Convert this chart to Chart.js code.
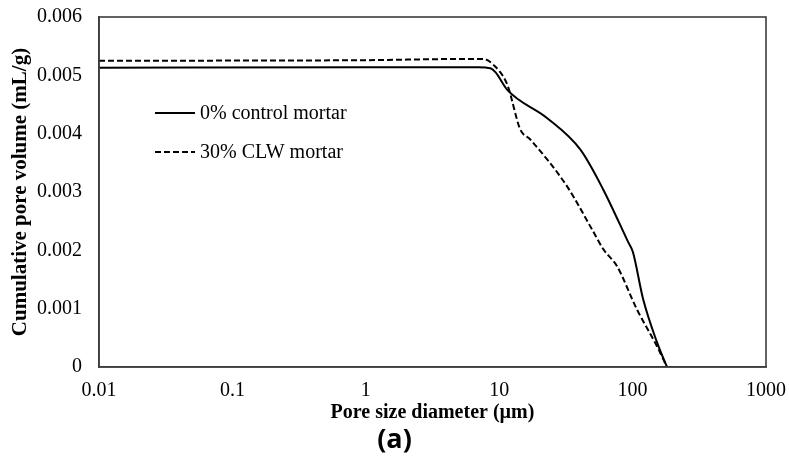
<!DOCTYPE html>
<html>
<head>
<meta charset="utf-8">
<script src="https://cdn.jsdelivr.net/npm/chart.js@4/dist/chart.umd.min.js"></script>
<style>
  html, body { margin: 0; padding: 0; background: #ffffff; }
  canvas { display: block; }
</style>
</head>
<body>
<canvas id="c" width="789" height="461"></canvas>
<script>
// ---- Data ----
const seriesNames = ['0% control mortar', '30% CLW mortar'];

const controlX = [0.01, 1, 7, 8.6, 9.4, 11.5, 22.8, 40.5, 60.3, 92.7, 100.5, 120, 152, 181];
const controlY = [0.00513, 0.00514, 0.00514, 0.00512, 0.00505, 0.00475, 0.00427, 0.00373, 0.00304, 0.00214, 0.00197, 0.00116, 0.00043, 0];

const clwX = [0.01, 1, 5, 7.6, 9.05, 11.5, 14.4, 17.1, 32.2, 49.6, 60.3, 76.3, 107.6, 152, 181];
const clwY = [0.00525, 0.00526, 0.00528, 0.00528, 0.00518, 0.00484, 0.00407, 0.0039, 0.0031, 0.00236, 0.00202, 0.00173, 0.00099, 0.00036, 0];

const xTickValues = [0.01, 0.1, 1, 10, 100, 1000];
const xTickLabels = ['0.01', '0.1', '1', '10', '100', '1000'];
const yTickValues = [0, 0.001, 0.002, 0.003, 0.004, 0.005, 0.006];
const yTickLabels = ['0', '0.001', '0.002', '0.003', '0.004', '0.005', '0.006'];

const xTitle = 'Pore size diameter (µm)';
const yTitle = 'Cumulative pore volume (mL/g)';
const panelLabel = '(a)';

// ---- Build chart ----
const toPoints = (xs, ys) => xs.map((x, i) => ({ x: x, y: ys[i] }));

const SERIF = "'Liberation Serif', 'Times New Roman', serif";

const framePlugin = {
  id: 'frame',
  afterDatasetsDraw(chart) {
    const { ctx, chartArea: a } = chart;
    ctx.save();
    ctx.strokeStyle = '#3c3c3c';
    ctx.lineWidth = 1.6;
    ctx.strokeRect(a.left, a.top, a.right - a.left, a.bottom - a.top);
    ctx.restore();
  }
};

const insideLegend = {
  id: 'insideLegend',
  afterDatasetsDraw(chart) {
    const { ctx, scales } = chart;
    const x0 = scales.x.left + 56;
    const rows = [113, 152];
    ctx.save();
    chart.data.datasets.forEach((ds, i) => {
      const y = rows[i];
      ctx.beginPath();
      ctx.setLineDash(ds.borderDash || []);
      ctx.strokeStyle = ds.borderColor;
      ctx.lineWidth = ds.borderWidth;
      ctx.moveTo(x0, y);
      ctx.lineTo(x0 + 40, y);
      ctx.stroke();
      ctx.setLineDash([]);
      ctx.fillStyle = '#000';
      ctx.font = '20px ' + SERIF;
      ctx.textBaseline = 'middle';
      ctx.textAlign = 'left';
      ctx.fillText(ds.label, x0 + 45, y + 1);
    });
    ctx.restore();
  }
};

new Chart(document.getElementById('c'), {
  type: 'line',
  data: {
    datasets: [
      {
        label: seriesNames[0],
        data: toPoints(controlX, controlY),
        borderColor: '#000000',
        borderWidth: 2,
        pointRadius: 0,
        fill: false,
        cubicInterpolationMode: 'monotone'
      },
      {
        label: seriesNames[1],
        data: toPoints(clwX, clwY),
        borderColor: '#000000',
        borderWidth: 2,
        borderDash: [6, 3],
        pointRadius: 0,
        fill: false,
        cubicInterpolationMode: 'monotone'
      }
    ]
  },
  options: {
    responsive: false,
    animation: false,
    events: [],
    layout: { padding: { top: 17, right: 0, left: 0, bottom: 0 } },
    plugins: {
      legend: { display: false },
      tooltip: { enabled: false },
      title: {
        display: true,
        position: 'bottom',
        text: panelLabel,
        color: '#000',
        font: { family: "'Open Sans', 'Noto Sans', sans-serif", size: 27, weight: 'bold', lineHeight: 1.2 },
        padding: { top: 0, bottom: 4 }
      }
    },
    scales: {
      x: {
        type: 'logarithmic',
        min: 0.01,
        max: 1000,
        afterBuildTicks(scale) { scale.ticks = xTickValues.map(v => ({ value: v })); },
        afterFit(scale) { scale.height = 57.6; scale.paddingLeft = 0; scale.paddingRight = 23; },
        grid: { display: false, drawTicks: false },
        border: { display: true, color: '#3c3c3c', width: 1.6 },
        ticks: {
          color: '#000',
          padding: 12,
          autoSkip: false,
          maxRotation: 0,
          font: { family: SERIF, size: 20 },
          callback: (v) => { const i = xTickValues.indexOf(v); return i >= 0 ? xTickLabels[i] : ''; }
        },
        title: {
          display: true,
          text: xTitle,
          color: '#000',
          font: { family: SERIF, size: 20, weight: 'bold', lineHeight: 1.2 },
          padding: { top: 0, bottom: 0 }
        }
      },
      y: {
        min: 0,
        max: 0.006,
        afterBuildTicks(scale) { scale.ticks = yTickValues.map(v => ({ value: v })); },
        afterFit(scale) { scale.width = 99; scale.paddingTop = 0; scale.paddingBottom = 0; },
        grid: { display: false, drawTicks: false },
        border: { display: true, color: '#3c3c3c', width: 1.6 },
        ticks: {
          color: '#000',
          padding: 17,
          font: { family: SERIF, size: 20 },
          callback: (v) => { const i = yTickValues.findIndex(t => Math.abs(t - v) < 1e-9); return i >= 0 ? yTickLabels[i] : ''; }
        },
        title: {
          display: true,
          text: yTitle,
          color: '#000',
          font: { family: SERIF, size: 21, weight: 'bold', lineHeight: 1.2 },
          padding: { top: 8, bottom: 0 }
        }
      }
    }
  },
  plugins: [framePlugin, insideLegend]
});
</script>
</body>
</html>
